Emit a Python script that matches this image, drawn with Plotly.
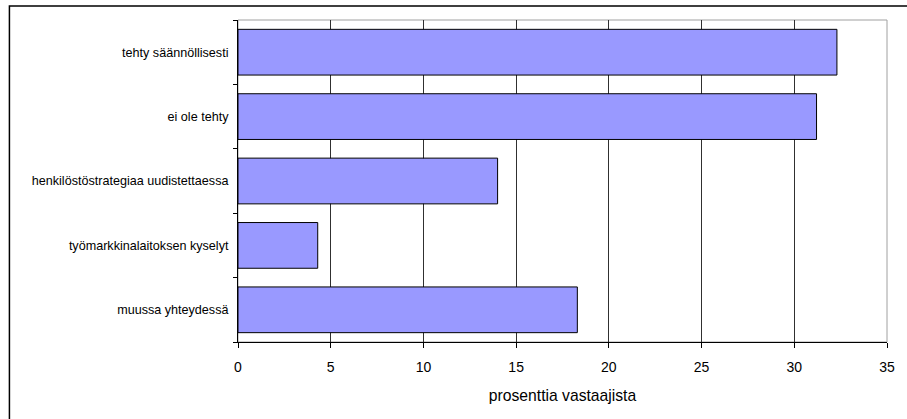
import plotly.graph_objects as go

# Survey responses: when the competence survey has been carried out
categories = [
    "tehty säännöllisesti",
    "ei ole tehty",
    "henkilöstöstrategiaa uudistettaessa",
    "työmarkkinalaitoksen kyselyt",
    "muussa yhteydessä",
]
values = [32.3, 31.2, 14.0, 4.3, 18.3]
x_ticks = [0, 5, 10, 15, 20, 25, 30, 35]
x_title = "prosenttia vastaajista"

font_family = "Liberation Sans, Arial, sans-serif"

fig = go.Figure(
    go.Bar(
        x=values,
        y=categories,
        orientation="h",
        width=0.71,
        marker=dict(color="#9999FF", line=dict(color="#000000", width=1)),
        hoverinfo="x+y",
    )
)

# plot-area frame (grey on top/right) and the outer chart border
fig.add_shape(
    type="rect", xref="paper", yref="paper", x0=0, x1=1, y0=0, y1=1,
    line=dict(color="#A0A0A0", width=1), layer="below",
)
fig.add_shape(
    type="rect", xref="paper", yref="paper", x0=-0.3522, x1=1.2, y0=-0.5, y1=1.0435,
    line=dict(color="#000000", width=1.5), layer="below",
)

fig.update_layout(
    width=907,
    height=419,
    margin=dict(l=238, r=16, t=20, b=77),
    paper_bgcolor="white",
    plot_bgcolor="white",
    showlegend=False,
    font=dict(family=font_family, color="#000000"),
    bargap=0.29,
)

fig.update_xaxes(
    range=[0, 35],
    tickvals=x_ticks,
    ticktext=[str(t) for t in x_ticks],
    showgrid=True,
    gridcolor="#303030",
    gridwidth=1,
    showline=True,
    linecolor="#000000",
    linewidth=1,
    ticks="outside",
    ticklen=5,
    tickcolor="#000000",
    ticklabelstandoff=7,
    tickfont=dict(size=14, family=font_family),
    title=dict(text=x_title, font=dict(size=15.7, family=font_family), standoff=16),
    zeroline=False,
    fixedrange=True,
)

fig.update_yaxes(
    categoryorder="array",
    categoryarray=categories[::-1],
    tickson="boundaries",
    ticks="outside",
    ticklen=4,
    tickcolor="#000000",
    showline=True,
    linecolor="#000000",
    linewidth=1,
    showgrid=False,
    ticklabelstandoff=6,
    tickfont=dict(size=12.6, family=font_family),
    fixedrange=True,
)

fig.write_html("out.html")
